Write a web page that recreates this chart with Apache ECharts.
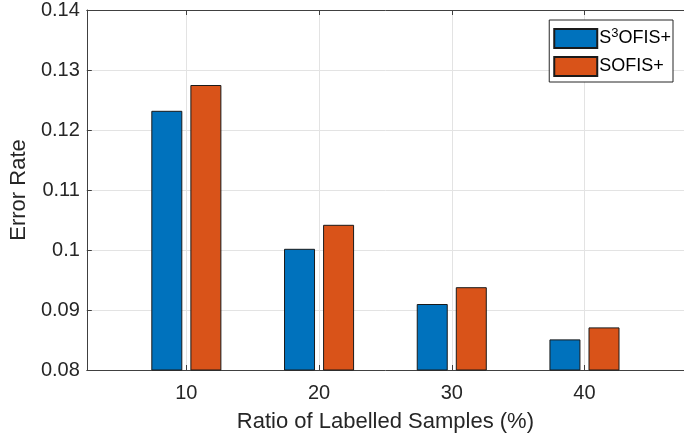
<!DOCTYPE html>
<html>
<head>
<meta charset="utf-8">
<script src="https://cdn.jsdelivr.net/npm/echarts@6/dist/echarts.min.js"></script>
<style>html,body{margin:0;padding:0;background:#fff}#c{width:684px;height:439px}</style>
</head>
<body>
<div id="c"></div>
<script>
var ratios = [10, 20, 30, 40];
var s3ofis = [0.1232, 0.1002, 0.0910, 0.0851];
var sofis = [0.1275, 0.1042, 0.0938, 0.0871];
var yTicks = [0.08, 0.09, 0.10, 0.11, 0.12, 0.13, 0.14];
var seriesNames = ['S3OFIS+', 'SOFIS+'];

function pairs(xs, ys) { return xs.map(function (x, i) { return [x, ys[i]]; }); }

var font = 'Liberation Sans, Arial, Helvetica, sans-serif';
var chart = echarts.init(document.getElementById('c'), null, {renderer: 'canvas'});
chart.setOption({
  animation: false,
  backgroundColor: '#fff',
  grid: {left: 85, top: 10, right: -8, bottom: 69, containLabel: false},
  legend: {
    orient: 'vertical',
    right: 11, top: 20,
    itemWidth: 43, itemHeight: 19, itemGap: 7,
    padding: [7, 2, 5, 4],
    borderColor: '#262626', borderWidth: 1,
    backgroundColor: '#fff',
    icon: 'rect',
    data: seriesNames,
    formatter: function (n) { return n === 'S3OFIS+' ? 'S{sup|3}OFIS+' : n; },
    textStyle: {
      fontFamily: font, fontSize: 18, color: '#000', padding: [0, 0, 0, -3],
      rich: {sup: {fontFamily: font, fontSize: 13, color: '#000', verticalAlign: 'top', padding: [0, 0, 10, 0]}}
    }
  },
  xAxis: [{
    type: 'value', min: 2.5, max: 47.5, position: 'bottom',
    name: 'Ratio of Labelled Samples (%)', nameLocation: 'middle', nameGap: 41,
    nameTextStyle: {fontFamily: font, fontSize: 22, color: '#262626'},
    axisLine: {show: true, lineStyle: {color: '#404040', width: 1}},
    axisTick: {show: true, inside: true, length: 5, customValues: ratios, lineStyle: {color: '#404040'}},
    axisLabel: {customValues: ratios, fontFamily: font, fontSize: 20, color: '#262626', margin: 13},
    splitLine: {show: true, lineStyle: {color: '#e3e3e3', width: 1}}
  }, {
    type: 'value', min: 2.5, max: 47.5, position: 'top',
    axisLine: {show: true, onZero: false, lineStyle: {color: '#404040', width: 1}},
    axisTick: {show: true, inside: true, length: 5, customValues: ratios, lineStyle: {color: '#404040'}},
    axisLabel: {show: false},
    splitLine: {show: false}
  }],
  yAxis: {
    type: 'value', min: yTicks[0], max: yTicks[yTicks.length - 1], interval: 0.01,
    name: 'Error Rate', nameLocation: 'middle', nameGap: 54,
    nameTextStyle: {fontFamily: font, fontSize: 22, color: '#262626'},
    axisLine: {show: true, lineStyle: {color: '#404040', width: 1}},
    axisTick: {show: true, inside: true, length: 5, lineStyle: {color: '#404040'}},
    axisLabel: {fontFamily: font, fontSize: 20, color: '#262626', margin: 7,
      formatter: function (v) { return String(+v.toFixed(2)); }},
    splitLine: {show: true, lineStyle: {color: '#e3e3e3', width: 1}}
  },
  series: [{
    name: seriesNames[0], type: 'bar', xAxisIndex: 0,
    data: pairs(ratios, s3ofis),
    barWidth: 31, barGap: '26%',
    itemStyle: {color: '#0072BD', borderColor: '#1a1a1a', borderWidth: 1}
  }, {
    name: seriesNames[1], type: 'bar', xAxisIndex: 0,
    data: pairs(ratios, sofis),
    barWidth: 31, barGap: '26%',
    itemStyle: {color: '#D95319', borderColor: '#1a1a1a', borderWidth: 1}
  }]
});
</script>
</body>
</html>
